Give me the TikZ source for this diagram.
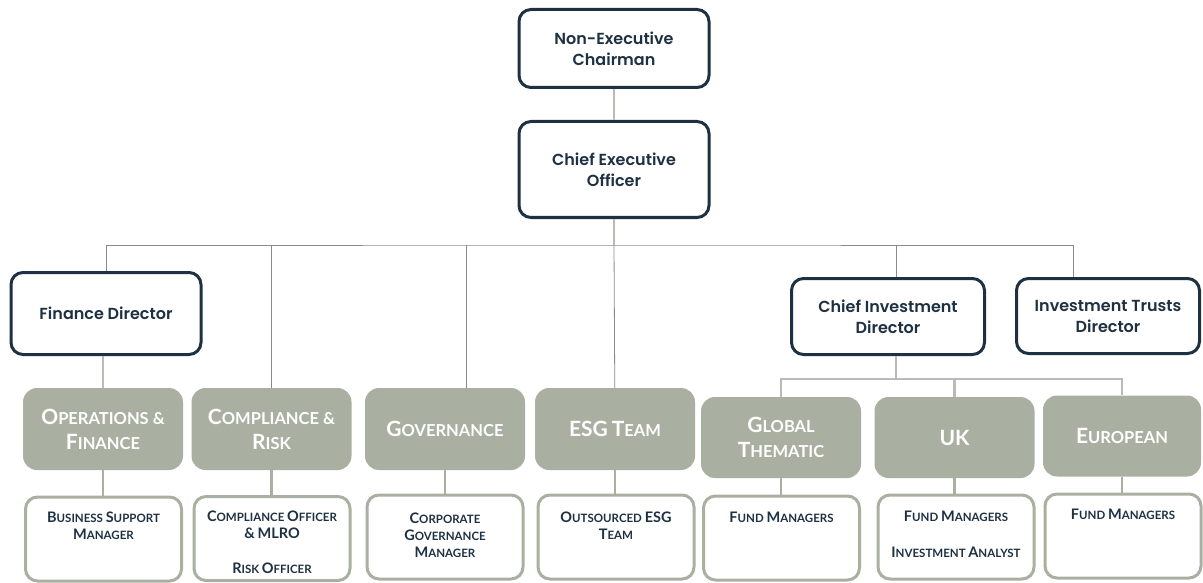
\documentclass[tikz,border=0pt]{standalone}
\usepackage{fontspec}
\setmainfont{Lato}
\newfontfamily\headfont{Poppins SemiBold}
\usetikzlibrary{positioning}

\definecolor{navy}{HTML}{1E3142}
\definecolor{sage}{HTML}{A9B0A2}
\definecolor{linkgray}{HTML}{B8BCB4}
\definecolor{busgray}{HTML}{8A8A8A}

% first letter of a word set larger, the rest in capitals
\newcommand{\kw}[2]{{\capsz #1}#2}

\tikzset{
  head/.style={draw=navy, line width=3pt, rounded corners=12pt, fill=white,
    text=navy, align=center, inner sep=0pt,
    font=\headfont\fontsize{16}{21}\selectfont},
  unit/.style={fill=sage, rounded corners=14pt, text=white, align=center,
    inner sep=0pt, minimum width=160pt, minimum height=82pt,
    font=\bfseries\fontsize{16.5}{25}\selectfont\def\capsz{\fontsize{21}{25}\selectfont}},
  post/.style={draw=sage, line width=3pt, rounded corners=12pt, fill=white,
    inner sep=0pt, minimum width=156pt, minimum height=84pt},
  posttext/.style={text=navy, align=center, inner sep=0pt,
    font=\bfseries\fontsize{11.5}{17}\selectfont\def\capsz{\fontsize{14.5}{17}\selectfont}},
  link/.style={draw=linkgray, line width=2.2pt},
  bus/.style={draw=busgray, line width=0.8pt}
}

\begin{document}
\begin{tikzpicture}[x=1pt, y=-1pt]
  \useasboundingbox (0,0) rectangle (1203,583);

  % board and directors
  \node[head, minimum width=190pt, minimum height=78pt] (chair) at (614,48.5) {Non-Executive\\Chairman};
  \node[head, minimum width=190pt, minimum height=96pt] (ceo) at (614,169.5) {Chief Executive\\Officer};
  \node[head, minimum width=190pt, minimum height=82pt] (fd) at (106,313.5) {Finance Director};
  \node[head, minimum width=193pt, minimum height=76pt] (cio) at (888,316.5) {Chief Investment\\Director};
  \node[head, minimum width=183pt, minimum height=75pt] (itd) at (1108,316) {Investment Trusts\\Director};

  % teams
  \node[unit] (ops) at (103,429) {\kw{O}{PERATIONS \&}\\\kw{F}{INANCE}};
  \node[unit] (comp) at (271.5,429) {\kw{C}{OMPLIANCE \&}\\\kw{R}{ISK}};
  \node[unit] (gov) at (445,429) {\kw{G}{OVERNANCE}};
  \node[unit] (esg) at (615,429) {\kw{ESG}{} \kw{T}{EAM}};
  \node[unit, minimum height=81pt] (glob) at (781,437.5) {\kw{G}{LOBAL}\\\kw{T}{HEMATIC}};
  \node[unit, minimum height=81pt] (uk) at (954.5,437.5) {\kw{UK}{}};
  \node[unit, minimum width=158pt, minimum height=81pt] (eur) at (1122,436) {\kw{E}{UROPEAN}};

  % roles
  \node[post] (bsm) at (103.5,539) {};
  \node[post] (cco) at (272,538.5) {};
  \node[post] (cgm) at (445,537) {};
  \node[post] (oesg) at (616,537) {};
  \node[post] (gfm) at (781.5,538) {};
  \node[post] (ukfm) at (956,537) {};
  \node[post] (eufm) at (1123,536) {};

  \node[posttext, below=16pt of bsm.north] (bsmtext) {\kw{B}{USINESS} \kw{S}{UPPORT}\\\kw{M}{ANAGER}};
  \node[posttext, below=16pt of cco.north] (ccotext) {\kw{C}{OMPLIANCE} \kw{O}{FFICER}\\\kw{\&}{} \kw{MLRO}{}\\[18pt]\kw{R}{ISK} \kw{O}{FFICER}};
  \node[posttext, below=19pt of cgm.north] (cgmtext) {\kw{C}{ORPORATE}\\\kw{G}{OVERNANCE}\\\kw{M}{ANAGER}};
  \node[posttext, below=18pt of oesg.north] (oesgtext) {\kw{O}{UTSOURCED} \kw{ESG}{}\\\kw{T}{EAM}};
  \node[posttext, below=17pt of gfm.north] (gfmtext) {\kw{F}{UND} \kw{M}{ANAGERS}};
  \node[posttext, below=17pt of ukfm.north] (ukfmtext) {\kw{F}{UND} \kw{M}{ANAGERS}\\[19pt]\kw{I}{NVESTMENT} \kw{A}{NALYST}};
  \node[posttext, below=16pt of eufm.north] (eufmtext) {\kw{F}{UND} \kw{M}{ANAGERS}};

  % reporting lines
  \draw[link] (chair) -- (ceo);
  \coordinate (bus) at (614,245);
  \draw[link] (ceo) -- (bus);
  \draw[bus] (fd.north) |- (bus) -| ([xshift=-35pt]itd.north);
  \draw[bus] (bus) -- (esg);
  \draw[bus] (bus -| comp) -- (comp);
  \draw[bus] ([xshift=21pt]bus -| gov) -- ([xshift=21pt]gov.north);
  \draw[bus] ([xshift=8pt]bus -| cio) -- ([xshift=8pt]cio.north);
  \draw[link] (ops |- fd.south) -- (ops);

  \draw[link] ([xshift=8pt]cio.south) -- ++(0,23) coordinate (fork);
  \draw[link] (glob) |- (fork) -| (eur);
  \draw[link] (fork -| uk) -- (uk);

  \foreach \team/\role in {ops/bsm, comp/cco, gov/cgm, esg/oesg, glob/gfm, uk/ukfm, eur/eufm}
    \draw[link, draw=sage, line width=2.6pt] (\team) -- (\team |- \role.north);
\end{tikzpicture}
\end{document}
